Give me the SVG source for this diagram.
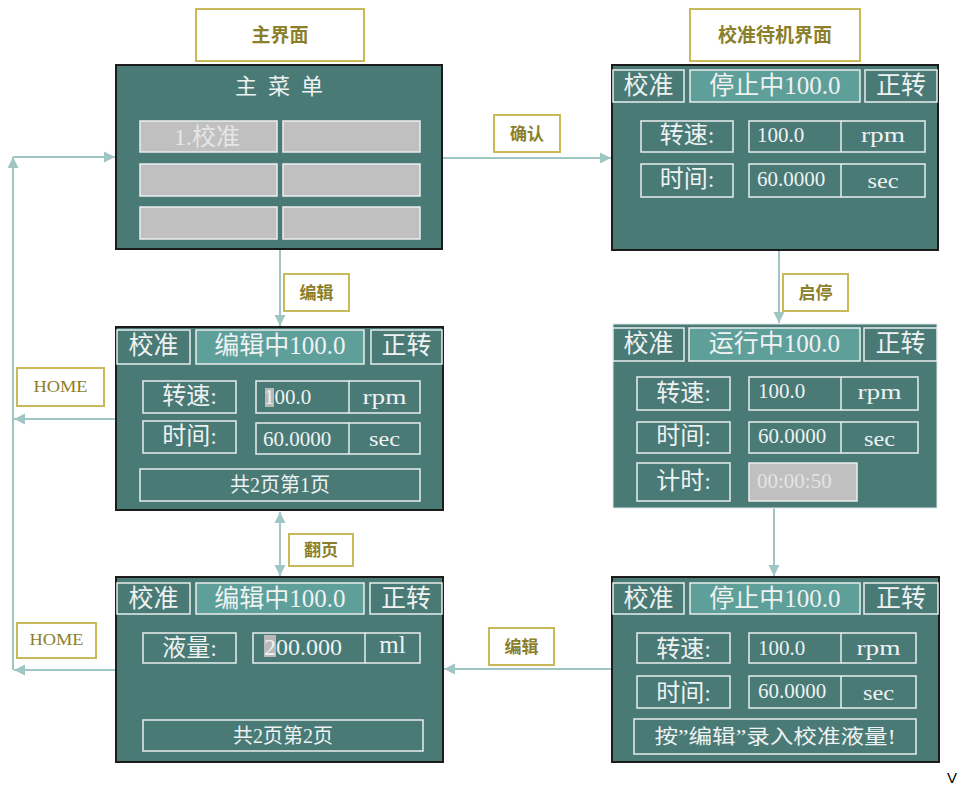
<svg xmlns="http://www.w3.org/2000/svg" width="960" height="785" viewBox="0 0 960 785">
<style>
.pnl{fill:#497a76;stroke:#1c1c1c;stroke-width:2}
.pnl2{fill:#497a76;stroke:#dfe8e7;stroke-width:1}
.bx{fill:none;stroke:#e8eeee;stroke-width:1.5}
.tab{fill:#497a76;stroke:#e8eeee;stroke-width:1.5}
.tabm{fill:#5f9f9a;stroke:#e8eeee;stroke-width:1.5}
.gry{fill:#c0c0c0;stroke:#eeeeee;stroke-width:1.5}
.t{font-family:"Liberation Serif","Noto Sans CJK SC",serif;fill:#eef2f2}
.th{font-size:25px;text-anchor:middle}
.tl{font-size:24px;text-anchor:middle}
.tv{font-size:21px}
.tu{font-size:21px;text-anchor:middle}
.tp{font-size:20px;text-anchor:middle}
.lb{fill:#ffffff;stroke:#c9b95a;stroke-width:2}
.lt{font-family:"Noto Sans CJK SC","Liberation Sans",sans-serif;font-weight:700;fill:#8b7f2c;text-anchor:middle}
.hm{font-family:"Liberation Serif",serif;fill:#8b7f2c;text-anchor:middle;font-size:16px}
.cn{stroke:#9fc6c3;stroke-width:2;fill:none}
</style>
<defs>
<marker id="ah" markerUnits="userSpaceOnUse" markerWidth="12" markerHeight="12" viewBox="0 0 12 12" refX="11" refY="6" orient="auto-start-reverse">
<path d="M0,0.5 L11,6 L0,11.5 z" fill="#9fc6c3"/>
</marker>
</defs>

<g id="connectors">
<line class="cn" x1="442" y1="158" x2="611" y2="158" marker-end="url(#ah)"/>
<line class="cn" x1="280" y1="250" x2="280" y2="326" marker-end="url(#ah)"/>
<line class="cn" x1="779" y1="250" x2="779" y2="323" marker-end="url(#ah)"/>
<line class="cn" x1="774" y1="508" x2="774" y2="576" marker-end="url(#ah)"/>
<line class="cn" x1="612" y1="669" x2="444" y2="669" marker-end="url(#ah)"/>
<line class="cn" x1="280" y1="512" x2="280" y2="576" marker-start="url(#ah)" marker-end="url(#ah)"/>
<line class="cn" x1="116" y1="419" x2="14" y2="419" marker-end="url(#ah)"/>
<line class="cn" x1="116" y1="670" x2="14" y2="670" marker-end="url(#ah)"/>
<line class="cn" x1="13" y1="670" x2="13" y2="157" marker-end="url(#ah)"/>
<line class="cn" x1="13" y1="157" x2="115" y2="157" marker-end="url(#ah)"/>
</g>

<g id="lbl-main">
<rect class="lb" x="196" y="9" width="168" height="52"/>
<text class="lt" x="280" y="42" font-size="19">主界面</text>
</g>
<g id="lbl-standby">
<rect class="lb" x="690" y="9" width="170" height="52"/>
<text class="lt" x="775" y="42" font-size="19">校准待机界面</text>
</g>
<g id="lbl-confirm">
<rect class="lb" x="494" y="115" width="66" height="37"/>
<text class="lt" x="527" y="140" font-size="17">确认</text>
</g>
<g id="lbl-edit1">
<rect class="lb" x="284" y="274" width="65" height="37"/>
<text class="lt" x="316.5" y="299" font-size="17">编辑</text>
</g>
<g id="lbl-startstop">
<rect class="lb" x="783" y="274" width="65" height="37"/>
<text class="lt" x="815.5" y="299" font-size="17">启停</text>
</g>
<g id="lbl-page">
<rect class="lb" x="289" y="534" width="64" height="32"/>
<text class="lt" x="321" y="556" font-size="17">翻页</text>
</g>
<g id="lbl-edit2">
<rect class="lb" x="489" y="628" width="65" height="37"/>
<text class="lt" x="521.5" y="653" font-size="17">编辑</text>
</g>
<g id="lbl-home1">
<rect class="lb" x="17" y="368" width="87" height="38"/>
<text class="hm" x="60.5" y="392" textLength="54" lengthAdjust="spacingAndGlyphs">HOME</text>
</g>
<g id="lbl-home2">
<rect class="lb" x="17" y="623" width="79" height="35"/>
<text class="hm" x="56.5" y="645" textLength="54" lengthAdjust="spacingAndGlyphs">HOME</text>
</g>

<g id="main-menu">
<rect class="pnl" x="116" y="65" width="326" height="184"/>
<text class="t" x="235" y="94" font-size="22" letter-spacing="11">主菜单</text>
<rect class="gry" x="140" y="121" width="137" height="31"/>
<rect class="gry" x="283" y="121" width="137" height="31"/>
<rect class="gry" x="140" y="164" width="137" height="32"/>
<rect class="gry" x="283" y="164" width="137" height="32"/>
<rect class="gry" x="140" y="207" width="137" height="32"/>
<rect class="gry" x="283" y="207" width="137" height="32"/>
<text class="t" x="174" y="145" font-size="24" style="fill:#e6e6e6">1.校准</text>
</g>

<g id="standby">
<rect class="pnl" x="612" y="65" width="326" height="185"/>
<rect class="tab" x="613" y="70" width="71" height="32"/>
<rect class="tabm" x="690" y="70" width="170" height="32"/>
<rect class="tab" x="865" y="70" width="72" height="32"/>
<text class="t th" x="648.5" y="94">校准</text>
<text class="t th" x="775" y="94">停止中100.0</text>
<text class="t th" x="901" y="94">正转</text>
<rect class="bx" x="641" y="121" width="92" height="31"/>
<rect class="bx" x="749" y="121" width="176" height="31"/>
<line class="bx" x1="841" y1="121" x2="841" y2="152"/>
<rect class="bx" x="641" y="164" width="92" height="33"/>
<rect class="bx" x="749" y="164" width="176" height="33"/>
<line class="bx" x1="841" y1="164" x2="841" y2="197"/>
<text class="t tl" x="687" y="143">转速:</text>
<text class="t tv" x="757" y="142">100.0</text>
<text class="t tu" x="883" y="142" textLength="44" lengthAdjust="spacingAndGlyphs">rpm</text>
<text class="t tl" x="687" y="187">时间:</text>
<text class="t tv" x="757" y="186">60.0000</text>
<text class="t tu" x="883" y="188" textLength="31" lengthAdjust="spacingAndGlyphs">sec</text>
</g>

<g id="edit-p1">
<rect class="pnl" x="116" y="327" width="327" height="183"/>
<rect class="tab" x="117" y="330" width="73" height="34"/>
<rect class="tabm" x="196" y="330" width="168" height="34"/>
<rect class="tab" x="371" y="330" width="71" height="34"/>
<text class="t th" x="153.5" y="354">校准</text>
<text class="t th" x="280" y="354">编辑中100.0</text>
<text class="t th" x="406.5" y="354">正转</text>
<rect class="bx" x="143" y="381" width="93" height="32"/>
<rect class="bx" x="256" y="381" width="164" height="32"/>
<line class="bx" x1="349" y1="381" x2="349" y2="413"/>
<rect class="bx" x="143" y="421" width="93" height="32"/>
<rect class="bx" x="256" y="423" width="164" height="31"/>
<line class="bx" x1="349" y1="423" x2="349" y2="454"/>
<rect class="bx" x="140" y="469" width="280" height="32"/>
<text class="t tl" x="189.5" y="404">转速:</text>
<rect x="265" y="388" width="9" height="19" fill="#b9b9b9"/>
<text class="t tv" x="264" y="404">100.0</text>
<text class="t tu" x="384.5" y="404" textLength="44" lengthAdjust="spacingAndGlyphs">rpm</text>
<text class="t tl" x="189.5" y="444">时间:</text>
<text class="t tv" x="263" y="446">60.0000</text>
<text class="t tu" x="384.5" y="446" textLength="31" lengthAdjust="spacingAndGlyphs">sec</text>
<text class="t tp" x="280" y="492">共2页第1页</text>
</g>

<g id="running">
<rect class="pnl2" x="613" y="324" width="324" height="184"/>
<rect class="tab" x="613" y="328" width="71" height="33"/>
<rect class="tabm" x="689" y="328" width="171" height="33"/>
<rect class="tab" x="864" y="328" width="73" height="33"/>
<text class="t th" x="648.5" y="352">校准</text>
<text class="t th" x="774.5" y="352">运行中100.0</text>
<text class="t th" x="900.5" y="352">正转</text>
<rect class="bx" x="637" y="377" width="93" height="33"/>
<rect class="bx" x="749" y="377" width="169" height="33"/>
<line class="bx" x1="841" y1="377" x2="841" y2="410"/>
<rect class="bx" x="637" y="422" width="93" height="31"/>
<rect class="bx" x="749" y="422" width="169" height="31"/>
<line class="bx" x1="841" y1="422" x2="841" y2="453"/>
<rect class="bx" x="637" y="463" width="93" height="38"/>
<rect class="gry" x="749" y="463" width="108" height="38"/>
<text class="t tl" x="683.5" y="401">转速:</text>
<text class="t tv" x="758" y="398">100.0</text>
<text class="t tu" x="879.5" y="399" textLength="44" lengthAdjust="spacingAndGlyphs">rpm</text>
<text class="t tl" x="683.5" y="444">时间:</text>
<text class="t tv" x="758" y="443">60.0000</text>
<text class="t tu" x="879.5" y="446" textLength="31" lengthAdjust="spacingAndGlyphs">sec</text>
<text class="t tl" x="683.5" y="489">计时:</text>
<text class="t tv" x="757" y="488" style="fill:#e4e4e4">00:00:50</text>
</g>

<g id="edit-p2">
<rect class="pnl" x="116" y="577" width="327" height="185"/>
<rect class="tab" x="117" y="583" width="73" height="31"/>
<rect class="tabm" x="196" y="583" width="168" height="31"/>
<rect class="tab" x="370" y="583" width="72" height="31"/>
<text class="t th" x="153.5" y="607">校准</text>
<text class="t th" x="280" y="607">编辑中100.0</text>
<text class="t th" x="406" y="607">正转</text>
<rect class="bx" x="143" y="633" width="93" height="30"/>
<rect class="bx" x="253" y="633" width="167" height="30"/>
<line class="bx" x1="365" y1="633" x2="365" y2="663"/>
<text class="t tl" x="189.5" y="656">液量:</text>
<rect x="264" y="635" width="12" height="22" fill="#b9b9b9"/>
<text class="t" x="264" y="655" font-size="24">200.000</text>
<text class="t" x="392.5" y="653" font-size="25" text-anchor="middle">ml</text>
<rect class="bx" x="143" y="720" width="280" height="31"/>
<text class="t tp" x="283" y="743">共2页第2页</text>
</g>

<g id="standby-hint">
<rect class="pnl" x="612" y="577" width="327" height="185"/>
<rect class="tab" x="613" y="583" width="71" height="31"/>
<rect class="tabm" x="690" y="583" width="170" height="31"/>
<rect class="tab" x="864" y="583" width="74" height="31"/>
<text class="t th" x="648.5" y="607">校准</text>
<text class="t th" x="775" y="607">停止中100.0</text>
<text class="t th" x="901" y="607">正转</text>
<rect class="bx" x="637" y="633" width="93" height="30"/>
<rect class="bx" x="749" y="633" width="167" height="30"/>
<line class="bx" x1="841" y1="633" x2="841" y2="663"/>
<rect class="bx" x="637" y="676" width="93" height="32"/>
<rect class="bx" x="749" y="676" width="167" height="32"/>
<line class="bx" x1="841" y1="676" x2="841" y2="708"/>
<rect class="bx" x="634" y="719" width="282" height="35"/>
<text class="t tl" x="683.5" y="657">转速:</text>
<text class="t tv" x="758" y="655">100.0</text>
<text class="t tu" x="878.5" y="655" textLength="44" lengthAdjust="spacingAndGlyphs">rpm</text>
<text class="t tl" x="683.5" y="701">时间:</text>
<text class="t tv" x="758" y="698">60.0000</text>
<text class="t tu" x="878.5" y="700" textLength="31" lengthAdjust="spacingAndGlyphs">sec</text>
<text class="t tp" x="775" y="744" textLength="241" lengthAdjust="spacingAndGlyphs">按”编辑”录入校准液量!</text>
</g>

<text x="947" y="783" font-family="Liberation Sans,sans-serif" font-size="15" fill="#000000">V</text>
</svg>
